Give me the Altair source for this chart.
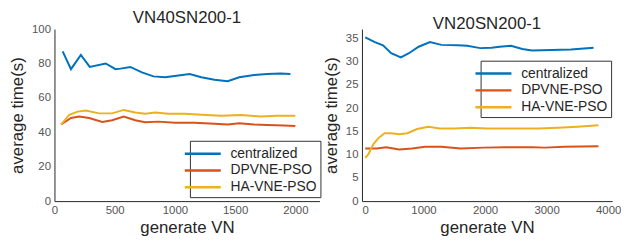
import altair as alt
import pandas as pd

series = ["centralized", "DPVNE-PSO", "HA-VNE-PSO"]
colors = ["#0072BD", "#D95319", "#EDB120"]

# Left panel: VN40SN200-1
l_cen_x = [68, 137, 219, 293, 425, 507, 548, 630, 726, 822, 918, 1014, 1123, 1219, 1329, 1438, 1534, 1658, 1767, 1877, 1959]
l_cen_y = [87, 76.7, 85, 78, 80, 76.7, 77, 78, 74.8, 72.5, 72, 72.9, 73.9, 72, 70.5, 69.7, 72, 73.3, 73.9, 74.2, 73.9]
l_dp_x = [55, 137, 205, 288, 397, 479, 575, 671, 753, 863, 1000, 1164, 1329, 1438, 1534, 1658, 1767, 1904, 2000]
l_dp_y = [44.5, 48.3, 49.2, 48.3, 46, 47, 49.2, 47, 45.8, 46.2, 45.5, 45.5, 44.9, 44.5, 45.3, 44.5, 44.3, 43.9, 43.6]
l_ha_x = [55, 123, 192, 260, 370, 479, 575, 671, 753, 836, 945, 1082, 1219, 1384, 1548, 1712, 1849, 2000]
l_ha_y = [44.5, 50.2, 52, 52.7, 51, 51, 53, 51.5, 50.8, 51.5, 50.8, 50.8, 50.2, 49.6, 50, 49.2, 49.6, 49.6]

# Right panel: VN20SN200-1
r_cen_x = [53, 210, 342, 474, 632, 763, 921, 1105, 1289, 1553, 1711, 1921, 2105, 2237, 2421, 2605, 2763, 3079, 3395, 3763]
r_cen_y = [35.2, 34.2, 33.5, 31.8, 30.9, 31.8, 33.2, 34.2, 33.6, 33.5, 33.4, 32.9, 33, 33.2, 33.4, 32.7, 32.4, 32.5, 32.6, 33]
r_dp_x = [53, 237, 395, 605, 816, 1026, 1289, 1605, 1974, 2342, 2763, 2974, 3289, 3842]
r_dp_y = [11.3, 11.3, 11.6, 11.1, 11.3, 11.7, 11.7, 11.3, 11.5, 11.6, 11.6, 11.5, 11.7, 11.8]
r_ha_x = [53, 105, 184, 263, 368, 474, 605, 737, 895, 1079, 1263, 1500, 1763, 2026, 2342, 2658, 2868, 3184, 3500, 3842]
r_ha_y = [9.3, 10.1, 12.2, 13.5, 14.6, 14.6, 14.4, 14.6, 15.5, 16.0, 15.6, 15.6, 15.8, 15.6, 15.6, 15.6, 15.6, 15.8, 16.0, 16.3]


def frame(parts):
    rows = []
    for name, xs, ys in parts:
        for i, (x, y) in enumerate(zip(xs, ys)):
            rows.append({"series": name, "x": x, "y": y, "order": i})
    return pd.DataFrame(rows)


left_df = frame([("centralized", l_cen_x, l_cen_y), ("DPVNE-PSO", l_dp_x, l_dp_y), ("HA-VNE-PSO", l_ha_x, l_ha_y)])
right_df = frame([("centralized", r_cen_x, r_cen_y), ("DPVNE-PSO", r_dp_x, r_dp_y), ("HA-VNE-PSO", r_ha_x, r_ha_y)])

FONT = "Liberation Sans"


def axis(values, title, **kw):
    return alt.Axis(values=values, title=title, grid=False, ticks=False, domainColor="#262626",
                    labelFont=FONT, labelFontSize=11.5, labelColor="#555555", labelPadding=4,
                    titleFont=FONT, titleFontSize=17, titleFontWeight="normal", titleColor="#262626", **kw)


def panel(df, title, xdom, xticks, ydom, yticks, w, h, lx, ly, flush):
    return alt.Chart(df, title=alt.Title(title, fontSize=17, font=FONT, fontWeight="normal", color="#262626", offset=-4)).mark_line(strokeWidth=2).encode(
        x=alt.X("x:Q", scale=alt.Scale(domain=xdom, nice=False, zero=True),
                axis=axis(xticks, "generate VN", format="d", titlePadding=3, labelFlush=flush)),
        y=alt.Y("y:Q", scale=alt.Scale(domain=ydom, nice=False),
                axis=axis(yticks, "average time(s)", titlePadding=5)),
        color=alt.Color("series:N", scale=alt.Scale(domain=series, range=colors),
                        legend=alt.Legend(title=None, orient="none", legendX=lx, legendY=ly,
                                          symbolType="M-2.1,0H2.1", symbolSize=300, symbolStrokeWidth=2.5,
                                          labelFontSize=14, labelFont=FONT, labelColor="#262626",
                                          labelOffset=18,
                                          strokeColor="#333333", fillColor="white", padding=3,
                                          rowPadding=0)),
        order="order:Q",
    ).properties(width=w, height=h)


left = panel(left_df, "VN40SN200-1", [0, 2200], [0, 500, 1000, 1500, 2000], [0, 100], [0, 20, 40, 60, 80, 100], 268, 174, 137, 113, False)
right = panel(right_df, "VN20SN200-1", [0, 4064], [0, 1000, 2000, 3000, 4000], [0, 37], [0, 5, 10, 15, 20, 25, 30, 35], 253, 174, 120, 32, True)

chart = alt.hconcat(left, right, spacing=1, padding={"left": 0, "top": 0, "right": 0, "bottom": 0}).resolve_scale(color="independent").configure_view(stroke=None)

chart.save("out.html", embed_options={"renderer": "svg", "actions": False})
